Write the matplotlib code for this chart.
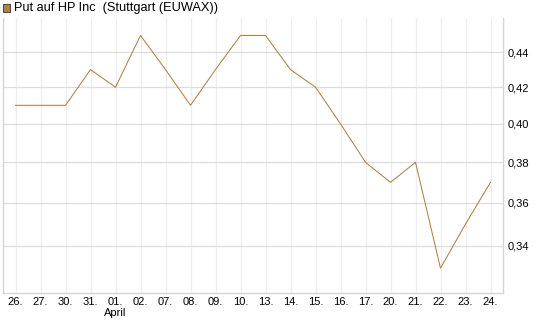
import matplotlib
matplotlib.use("Agg")
import matplotlib.pyplot as plt
from matplotlib.ticker import FixedLocator, NullLocator, FuncFormatter
from matplotlib.patches import Rectangle

days = ["26.", "27.", "30.", "31.", "01.", "02.", "07.", "08.", "09.", "10.",
        "13.", "14.", "15.", "16.", "17.", "20.", "21.", "22.", "23.", "24."]
values = [0.41, 0.41, 0.41, 0.43, 0.42, 0.45, 0.43, 0.41, 0.43, 0.45,
          0.45, 0.43, 0.42, 0.40, 0.38, 0.37, 0.38, 0.33, 0.35, 0.37]
yticks = [0.34, 0.36, 0.38, 0.40, 0.42, 0.44]
title = "Put auf HP Inc  (Stuttgart (EUWAX))"
month_label = "April"
month_index = 4

plt.rcParams['font.family'] = ['Liberation Sans', 'DejaVu Sans']
line_color = "#b5803a"

fig = plt.figure(figsize=(5.45, 3.27), dpi=100)
ax = fig.add_axes([3/545, 1-292.7/327, 500/545, (292.7-18)/327])
x = list(range(len(days)))
ax.plot(x, values, color=line_color, lw=0.75, zorder=3)
ax.set_yscale("log")
ax.set_ylim(0.3194, 0.4606)
ax.set_xlim(-0.5, len(days)-0.5)

ax.yaxis.set_major_locator(FixedLocator(yticks))
ax.yaxis.set_minor_locator(NullLocator())
ax.yaxis.set_major_formatter(FuncFormatter(lambda v, p: f"{v:.2f}".replace(".", ",")))
ax.yaxis.tick_right()
ax.set_xticks(x)
labels = [d + ("\n" + month_label if i == month_index else "") for i, d in enumerate(days)]
ax.set_xticklabels(labels, va="top")
ax.tick_params(axis="both", length=0, labelsize=8, colors="#000000")
ax.tick_params(axis="y", pad=3)
ax.tick_params(axis="x", pad=3)

ax.grid(axis="y", color="#dddddd", lw=0.9)
ax.grid(axis="x", color="#eeeeee", lw=0.9)
ax.set_axisbelow(True)
for s in ["top"]:
    ax.spines[s].set_visible(False)
for s in ["left", "right", "bottom"]:
    ax.spines[s].set_color("#d5d5d5")
    ax.spines[s].set_linewidth(1.0)

fig.patches.append(Rectangle((3/545, 1-11.5/327), 7/545, 7/327, transform=fig.transFigure,
                             facecolor="#b5803a", edgecolor="#444444", lw=0.7))
fig.text(14/545, 1-8/327, title, fontsize=9.2, va="center", ha="left", color="#000000")

fig.savefig("out.png", dpi=100)
